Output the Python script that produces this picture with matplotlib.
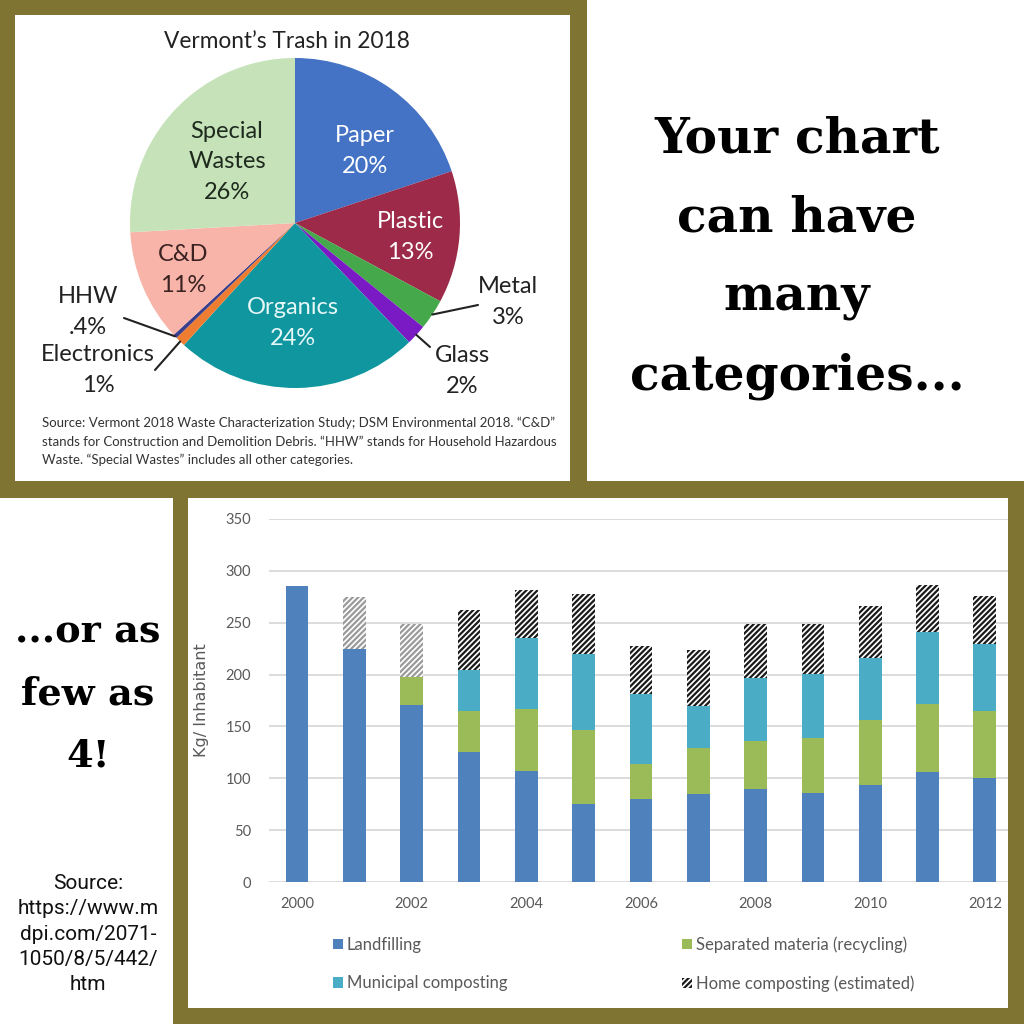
import numpy as np
import matplotlib
matplotlib.use('Agg')
import matplotlib.pyplot as plt
from matplotlib.patches import Rectangle, Patch

plt.rcParams['font.family'] = ['Lato', 'DejaVu Sans']

## pie: Vermont's trash 2018 (percent)
pie_names = ['Paper', 'Plastic', 'Metal', 'Glass', 'Organics',
             'Electronics', 'HHW', 'C&D', 'Special\nWastes']
pie_values = [20, 13, 3, 2, 24, 1, 0.4, 11, 26]
pie_pct = ['20%', '13%', '3%', '2%', '24%', '1%', '.4%', '11%', '26%']
pie_colors = ['#4472c4', '#9c2a48', '#45a84a', '#7a1ac4', '#10969f',
              '#ee7d31', '#3b3f8c', '#f8b4a9', '#c6e2b8']

## stacked bars: kg per inhabitant
years = list(range(2000, 2013))
landfilling = [285, 225, 171, 125, 107, 75, 80, 85, 90, 86, 94, 106, 100]
recycling = [0, 0, 27, 40, 60, 72, 34, 44, 46, 53, 62, 66, 65]
municipal = [0, 0, 0, 39, 68, 73, 67, 41, 61, 62, 60, 69, 64]
home = [0, 50, 51, 58, 47, 58, 47, 54, 52, 48, 50, 45, 47]
series_names = ['Landfilling', 'Separated materia (recycling)',
                'Municipal composting', 'Home composting (estimated)']

OLIVE = '#807432'
W = 1024.0


def fig_box(x0, y0, x1, y1):
    # pixel box (y down) -> figure fraction rect
    return [x0 / W, 1 - y1 / W, (x1 - x0) / W, (y1 - y0) / W]


fig = plt.figure(figsize=(10.24, 10.24), dpi=100)
bg = fig.add_axes([0, 0, 1, 1])
bg.set_xlim(0, W)
bg.set_ylim(W, 0)
bg.axis('off')

frames = [(0, 0, 587, 15), (0, 0, 15, 498), (570, 0, 17, 498),
          (0, 481, 1024, 17), (173, 481, 15, 543), (1008, 481, 16, 543),
          (173, 1008, 851, 16)]
for x, y, w, h in frames:
    bg.add_patch(Rectangle((x, y), w, h, color=OLIVE, lw=0))

## ---- pie ----
bg.text(287, 42, 'Vermont\u2019s Trash in 2018', ha='center', va='center',
        fontsize=16.3, color='#222222')

pax = fig.add_axes(fig_box(130, 58, 460, 388))
wedges, _ = pax.pie(pie_values, colors=pie_colors, startangle=90,
                    counterclock=False, wedgeprops=dict(linewidth=0))
pax.set_xlim(-1, 1)
pax.set_ylim(-1, 1)
pax.axis('off')

LAB = 17
inside = {0: (365, 151, 'white'), 1: (410, 237, 'white'),
          4: (293, 323, '#e6f7f7'), 7: (183, 270, '#3a2222'),
          8: (227, 162, '#1e2a1e')}
for i, (tx, ty, col) in inside.items():
    pax.text(tx, ty, pie_names[i] + '\n' + pie_pct[i], transform=bg.transData,
             ha='center', va='center', fontsize=LAB, color=col, linespacing=1.58)

outside = {2: ((478, 305), (508, 302)), 3: ((430, 347), (462, 371)),
           5: ((155, 370), (98, 370)), 6: ((124, 318), (88, 312))}
for i, (end, lab) in outside.items():
    w = wedges[i]
    ang = np.deg2rad((w.theta1 + w.theta2) / 2.0)
    pax.annotate('', xy=(np.cos(ang), np.sin(ang)), xycoords='data',
                 xytext=end, textcoords=bg.transData, annotation_clip=False,
                 arrowprops=dict(arrowstyle='-', color='#222222', lw=1.5,
                                 shrinkA=0, shrinkB=0))
    pax.text(lab[0], lab[1], pie_names[i] + '\n' + pie_pct[i],
             transform=bg.transData, ha='center', va='center',
             fontsize=LAB, color='#222222', linespacing=1.58)

bg.text(42, 417, 'Source: Vermont 2018 Waste Characterization Study; DSM Environmental 2018. \u201cC&D\u201d\n'
        'stands for Construction and Demolition Debris. \u201cHHW\u201d stands for Household Hazardous\n'
        'Waste. \u201cSpecial Wastes\u201d includes all other categories.',
        ha='left', va='top', fontsize=9.55, color='#333333', linespacing=1.62)

## ---- big captions ----
bg.text(797, 258, 'Your chart\ncan have\nmany\ncategories...', ha='center',
        va='center', fontsize=35, fontfamily='DejaVu Serif', weight='bold',
        color='black', linespacing=1.86)
bg.text(88, 694, '...or as\nfew as\n4!', ha='center', va='center',
        fontsize=27.5, fontfamily='DejaVu Serif', weight='bold',
        color='black', linespacing=1.85)
bg.text(88, 934, 'Source:\nhttps://www.m\ndpi.com/2071-\n1050/8/5/442/\nhtm',
        ha='center', va='center', fontsize=15, fontfamily='Roboto',
        color='#111111', linespacing=1.42)

## ---- stacked bars ----
ax = fig.add_axes(fig_box(269, 519, 1008, 882))
x = np.array(years)
bw = 0.4
b1 = ax.bar(x, landfilling, bw, color='#4f81bd', zorder=2)
b2 = ax.bar(x, recycling, bw, bottom=landfilling, color='#9bbb59', zorder=2)
bot2 = np.add(landfilling, recycling)
b3 = ax.bar(x, municipal, bw, bottom=bot2, color='#4bacc6', zorder=2)
bot3 = bot2 + np.array(municipal)
plt.rcParams['hatch.linewidth'] = 1.6
hatch_cols = ['#9a9a9a' if yr < 2003 else '#1a1a1a' for yr in years]
ax.bar(x, home, bw, bottom=bot3, color='white', edgecolor=hatch_cols,
       hatch='//////', linewidth=0, zorder=2)

ax.set_xlim(2000 - 28 / 57.33, 2000 + 711 / 57.33)
ax.set_ylim(0, 350)
ax.set_yticks(range(0, 351, 50))
ax.set_xticks(years[::2])
ax.yaxis.grid(True, color='#d9d9d9', lw=1.3)
ax.set_axisbelow(True)
for s in ax.spines.values():
    s.set_visible(False)
ax.tick_params(axis='both', length=0, labelcolor='#595959', labelsize=10.5)
ax.tick_params(axis='y', pad=13)
ax.tick_params(axis='x', pad=11)
ax.set_ylabel('Kg/ Inhabitant', fontfamily='DejaVu Sans', fontsize=11.5,
              color='#595959')
ax.yaxis.set_label_coords((209 - 269) / 739.0, 0.5)

hatch_proxy = Patch(facecolor='white', edgecolor='#1a1a1a', hatch='//////', lw=0)
leg_kw = dict(loc='center left', frameon=False, borderpad=0, borderaxespad=0,
              handlelength=0.58, handleheight=0.58, handletextpad=0.25,
              labelspacing=1.35, fontsize=12, labelcolor='#595959')
fig.legend([b1, b3], [series_names[0], series_names[2]],
           bbox_to_anchor=(333 / W, 1 - 964 / W), **leg_kw)
fig.legend([b2, hatch_proxy], [series_names[1], series_names[3]],
           bbox_to_anchor=(682 / W, 1 - 964 / W), **leg_kw)

plt.savefig('out.png', dpi=100)
